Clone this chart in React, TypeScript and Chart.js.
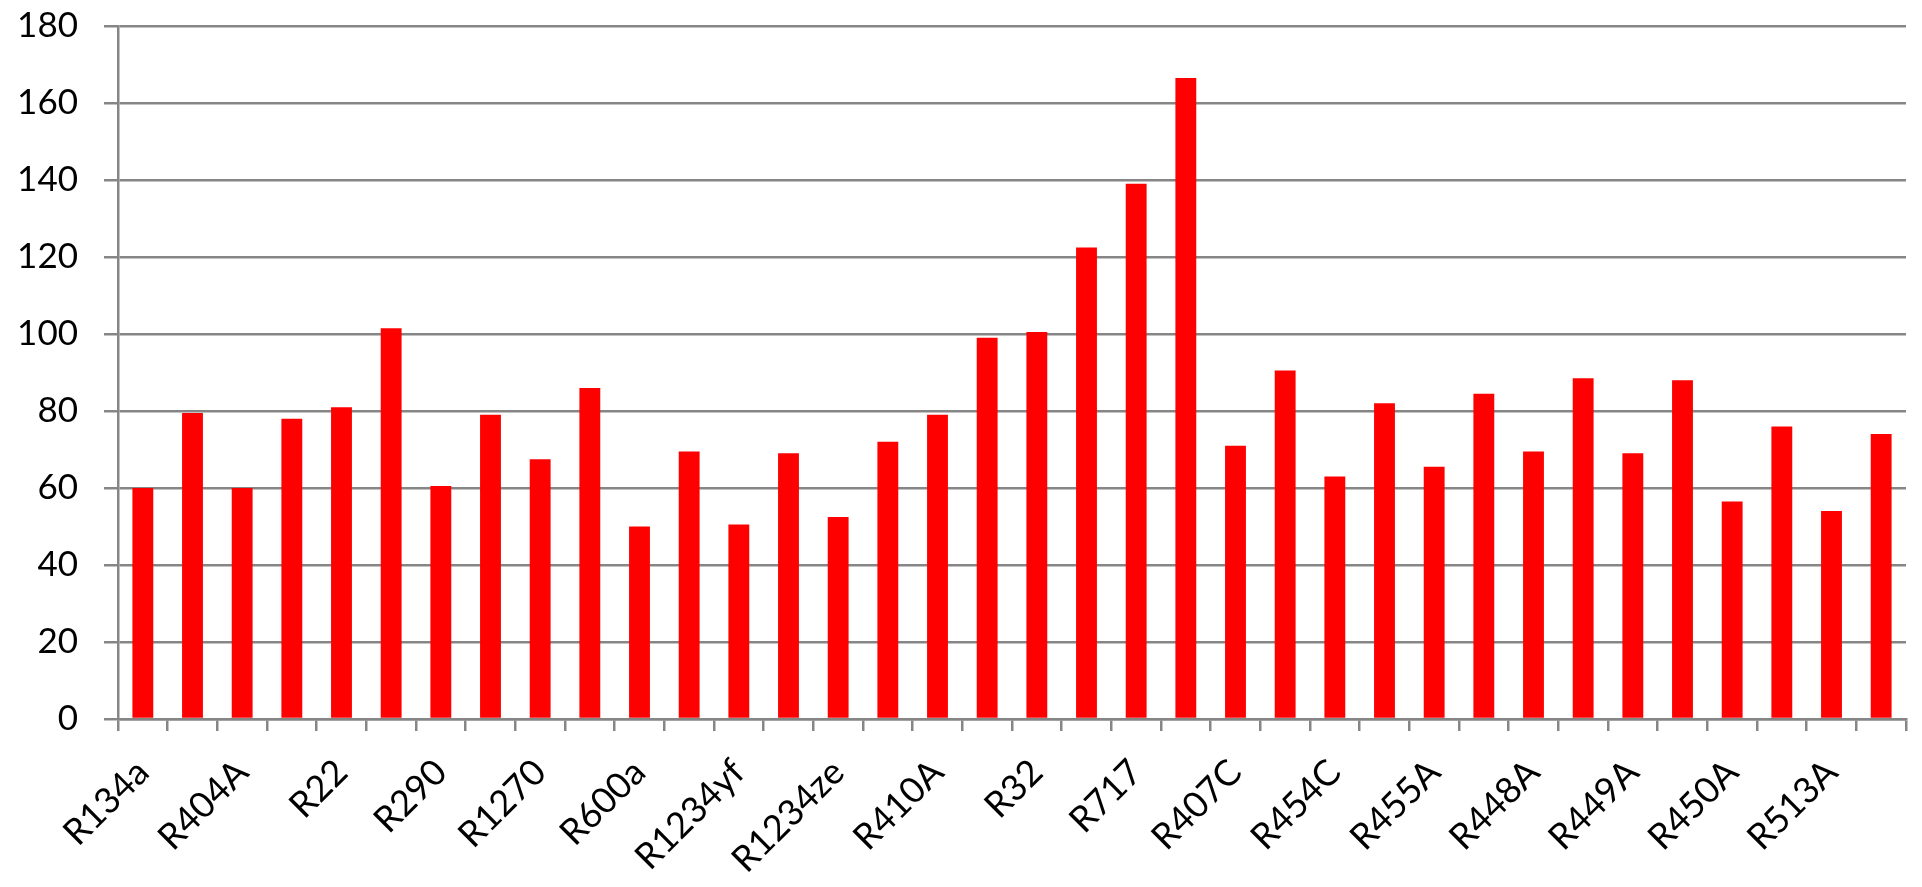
import React, { useEffect, useRef } from "react";
import { Chart, registerables } from "chart.js";

Chart.register(...registerables);

// 18 refrigerants, each with two bars (label shown under the first of each pair)
const refrigerants = [
  "R134a", "R404A", "R22", "R290", "R1270", "R600a", "R1234yf", "R1234ze", "R410A",
  "R32", "R717", "R407C", "R454C", "R455A", "R448A", "R449A", "R450A", "R513A",
];

const categoryLabels = refrigerants.flatMap((r) => [r, ""]);

const values = [
  60, 79.5, 60, 78, 81, 101.5, 60.5, 79, 67.5, 86, 50, 69.5, 50.5, 69, 52.5, 72, 79, 99,
  100.5, 122.5, 139, 166.5, 71, 90.5, 63, 82, 65.5, 84.5, 69.5, 88.5, 69, 88, 56.5, 76, 54, 74,
];

const yMin = 0;
const yMax = 180;
const yStep = 20;

const GRID = "#868686";
const FAMILY = "Lato, 'Open Sans', sans-serif";

export default function App() {
  const ref = useRef<HTMLCanvasElement | null>(null);

  useEffect(() => {
    if (!ref.current) return;
    const chart = new Chart(ref.current, {
      type: "bar",
      data: {
        labels: categoryLabels,
        datasets: [
          {
            data: values,
            backgroundColor: "#ff0000",
            borderWidth: 0,
            barPercentage: 0.42,
            categoryPercentage: 1,
          },
        ],
      },
      options: {
        responsive: false,
        animation: false,
        layout: { padding: { top: 26, right: 16, left: 0, bottom: 0 } },
        plugins: { legend: { display: false }, tooltip: { enabled: false } },
        scales: {
          x: {
            grid: {
              display: true,
              drawOnChartArea: false,
              drawTicks: true,
              tickLength: 12,
              color: GRID,
              lineWidth: 2.5,
              offset: true,
            },
            border: { display: true, color: GRID, width: 2.5 },
            ticks: {
              autoSkip: false,
              maxRotation: 45,
              minRotation: 45,
              font: { family: FAMILY, size: 36 },
              color: "#000",
              padding: 20,
              labelOffset: 0,
            },
            afterFit: (s: any) => {
              s.height = 168;
              s.paddingLeft = 0;
              s.paddingRight = 0;
            },
          },
          y: {
            min: yMin,
            max: yMax,
            ticks: { stepSize: yStep, font: { family: FAMILY, size: 35 }, color: "#000", padding: 26 },
            grid: { color: GRID, lineWidth: 2.5, tickLength: 14 },
            border: { display: true, color: GRID, width: 2.5 },
            afterFit: (s: any) => {
              s.width = 118;
              s.paddingTop = 0;
              s.paddingBottom = 0;
            },
          },
        },
      },
    });
    return () => chart.destroy();
  }, []);

  return (
    <canvas
      ref={ref}
      width={1922}
      height={887}
      style={{ position: "fixed", left: 0, top: 0, display: "block", background: "#fff" }}
    />
  );
}
